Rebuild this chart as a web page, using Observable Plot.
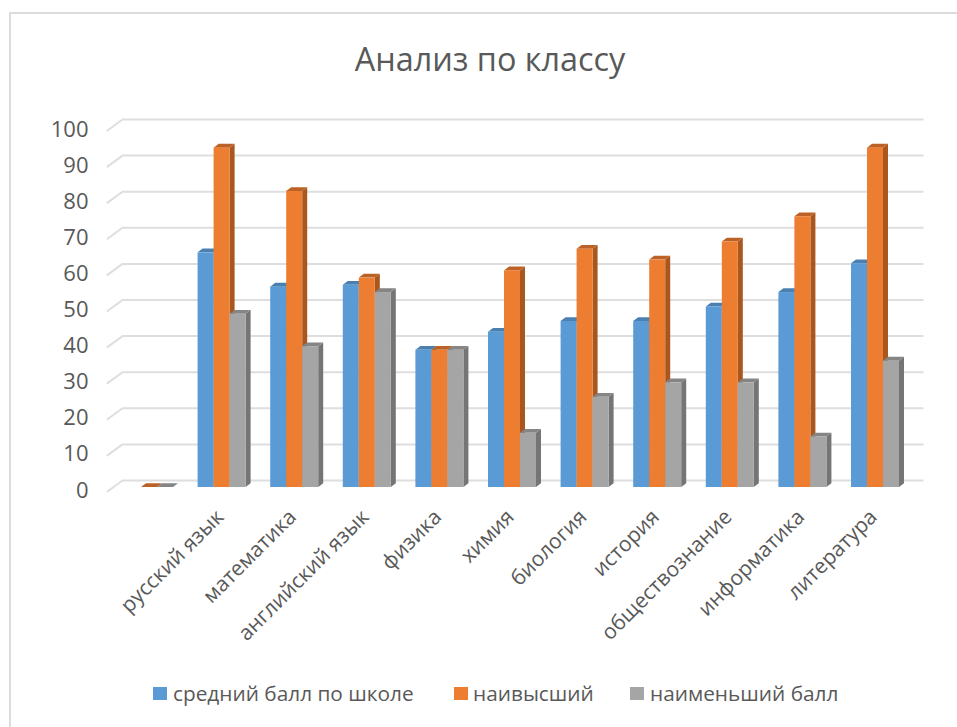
<!DOCTYPE html>
<html lang="ru">
<head>
<meta charset="utf-8">
<script src="https://cdn.jsdelivr.net/npm/d3@7"></script>
<script src="https://cdn.jsdelivr.net/npm/@observablehq/plot@0.6"></script>
<style>
html,body{margin:0;padding:0;background:#fff;overflow:hidden}
#page{position:relative;width:957px;height:727px;font-family:"Open Sans",sans-serif;color:#595959}
#frame{position:absolute;left:9px;top:12px;width:960px;height:730px;border:2px solid #DCDCDC;box-sizing:border-box}
#title{position:absolute;left:0;width:980px;top:36px;text-align:center;font-size:32.4px;line-height:44px;white-space:nowrap}
.lg{position:absolute;top:680px;font-size:20.8px;line-height:27px;white-space:nowrap}
.sw{position:absolute;top:687px;width:14px;height:13px}
#chart{position:absolute;left:0;top:0}
</style>
</head>
<body>
<div id="page">
<div id="frame"></div>
<div id="title">Анализ по классу</div>
<div id="chart"></div>
<div id="legend"></div>
</div>
<script>
const categories = ["", "русский язык", "математика", "английский язык", "физика", "химия", "биология", "история", "обществознание", "информатика", "литература"];
const seriesNames = ["средний балл по школе", "наивысший", "наименьший балл"];
const avgValues = [null, 65, 55.5, 56, 38, 43, 46, 46, 50, 54, 62];
const maxValues = [0, 94, 82, 58, 38, 60, 66, 63, 68, 75, 94];
const minValues = [0, 48, 39, 54, 38, 15, 25, 29, 29, 14, 35];
const frontColors = ["#5B9BD5", "#ED7D31", "#A5A5A5"];
const sideColors = ["#41719C", "#A9571F", "#757575"];
const topColors = ["#4A80B0", "#BC6226", "#858585"];
const legendX = [[153, 173], [454, 473], [630, 650]];
const yTicks = [0, 10, 20, 30, 40, 50, 60, 70, 80, 90, 100];

const barW = 0.2204, depthX = 0.069, depthY = 1.05;
const allValues = [avgValues, maxValues, minValues];

const gridData = yTicks.flatMap(t => [
  {t, x: -0.0785, y: t - 1.1},
  {t, x: 0.128, y: t + 1.94},
  {t, x: 11.15, y: t + 1.94}
]);

const marks = [
  Plot.line(gridData, {x: "x", y: "y", z: "t", stroke: "#DEDEDE", strokeWidth: 2}),
  Plot.axisY({ticks: yTicks, tickSize: 0, tickPadding: 24.7, label: null, fontSize: 22, dy: 3, fill: "#595959"}),
  Plot.axisX({ticks: categories.map((c, i) => i + 0.5), tickFormat: d => categories[Math.floor(d)],
    tickRotate: -45, tickSize: 0, tickPadding: 26, label: null, fontSize: 21, dx: -2, fill: "#595959"})
];

allValues.forEach((vals, s) => {
  const rows = vals.map((v, i) => ({i, v, x0: i + 0.5 + (s - 1.5) * barW})).filter(d => d.v != null);
  const side = rows.flatMap(d => [
    {id: d.i, x: d.x0 + barW, y1: 0, y2: d.v},
    {id: d.i, x: d.x0 + barW + depthX, y1: depthY, y2: d.v + depthY}
  ]);
  const top = rows.flatMap(d => [
    {id: d.i, x: d.x0, y1: d.v, y2: d.v},
    {id: d.i, x: d.x0 + depthX, y1: d.v, y2: d.v + depthY},
    {id: d.i, x: d.x0 + barW, y1: d.v, y2: d.v + depthY},
    {id: d.i, x: d.x0 + barW + depthX, y1: d.v + depthY, y2: d.v + depthY}
  ]);
  marks.push(
    Plot.area(side, {x1: "x", x2: "x", y1: "y1", y2: "y2", z: "id", fill: sideColors[s]}),
    Plot.area(top, {x1: "x", x2: "x", y1: "y1", y2: "y2", z: "id", fill: topColors[s]}),
    Plot.rect(rows, {x1: "x0", x2: d => d.x0 + barW, y1: 0, y2: "v", fill: frontColors[s]})
  );
});

const plot = Plot.plot({
  width: 957,
  height: 727,
  marginLeft: 112.7,
  marginRight: 45.7,
  marginTop: 126,
  marginBottom: 240,
  style: {background: "transparent", fontFamily: '"Open Sans",sans-serif', color: "#595959"},
  x: {type: "linear", domain: [0, 11]},
  y: {domain: [0, 100]},
  marks
});
document.getElementById("chart").append(plot);

const legend = document.getElementById("legend");
seriesNames.forEach((name, s) => {
  const sw = document.createElement("div");
  sw.className = "sw";
  sw.style.left = legendX[s][0] + "px";
  sw.style.background = frontColors[s];
  const t = document.createElement("div");
  t.className = "lg";
  t.style.left = legendX[s][1] + "px";
  t.textContent = name;
  legend.append(sw, t);
});
</script>
</body>
</html>
